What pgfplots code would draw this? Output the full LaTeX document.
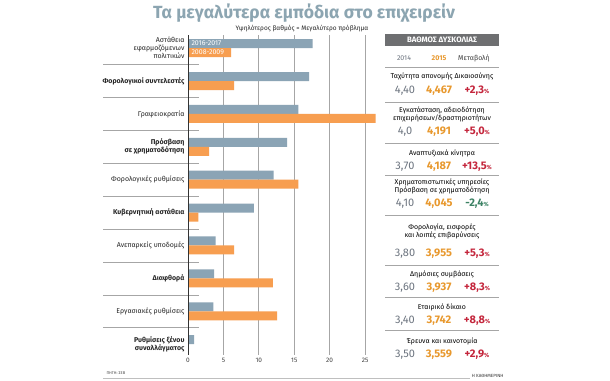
\documentclass[border=0pt]{standalone}
\usepackage{fontspec}
\setmainfont{Fira Sans}
\usepackage{pgfplots}
\pgfplotsset{compat=1.18}
\definecolor{barblue}{RGB}{139,164,181}
\definecolor{barorange}{RGB}{247,158,80}
\definecolor{titlec}{RGB}{140,165,177}
\definecolor{val14}{RGB}{108,116,127}
\definecolor{val15}{RGB}{232,152,45}
\definecolor{valred}{RGB}{196,38,60}
\definecolor{valgreen}{RGB}{60,130,100}
\definecolor{hdr}{RGB}{110,111,113}
\newcommand\valfont{\fontsize{11}{12}\selectfont}
\newcommand\ttl{\fontsize{7}{8}\selectfont}
\newcommand\vals[5]{%
 \node[anchor=base, text=val14, font=\valfont] at (405pt,-#1pt) {#2};
 \node[anchor=base, text=val15, font=\valfont\bfseries] at (439pt,-#1pt) {#3};
 \node[anchor=base, text=#5, font=\valfont\bfseries] at (477pt,-#1pt) {#4{\fontsize{6}{6}\selectfont\%}};
}
\begin{document}
\begin{tikzpicture}
\useasboundingbox (0,0) rectangle (610pt,-380pt);
\fill[white] (0,0) rectangle (610pt,-380pt);
\node[anchor=base, font=\fontsize{17.6}{20}\selectfont\bfseries, text=titlec] at (304pt,-18pt) {Τα μεγαλύτερα εμπόδια στο επιχειρείν};
\node[anchor=base, font=\fontsize{6.5}{7}\selectfont, text=black!85] at (302pt,-30pt) {Υψηλότερος βαθμός = Μεγαλύτερο πρόβλημα};
\begin{axis}[
 at={(188pt,-35pt)}, anchor=north west,
 scale only axis, width=191.2pt, height=320pt,
 xmin=0, xmax=27, ymin=-0.33, ymax=9.4,
 xbar, bar width=9pt,
 xtick={0,5,...,25}, ytick={0,...,9},
 yticklabels={{\textbf{Ρυθμίσεις ξένου}\\\textbf{συναλλάγματος}},
   Εργασιακές ρυθμίσεις, \textbf{Διαφθορά}, Ανεπαρκείς υποδομές,
   \textbf{Κυβερνητική αστάθεια}, Φορολογικές ρυθμίσεις,
   {\textbf{Πρόσβαση}\\\textbf{σε χρηματοδότηση}}, Γραφειοκρατία,
   \textbf{Φορολογικοί συντελεστές}, {Αστάθεια\\εφαρμοζόμενων\\πολιτικών}},
 xmajorgrids, grid style={gray!70, line width=0.7pt},
 axis line style={draw=none},
 major tick length=0pt,
 xticklabel style={font=\fontsize{6.5}{7}\selectfont, text=black!75},
 yticklabel style={font=\ttl, align=right, text=black!85},
 clip=false,
 /pgf/number format/assume math mode=true,
]
\addplot[fill=barblue, draw=none, bar shift=4.5pt] coordinates {(0.85,0) (3.6,1) (3.7,2) (3.9,3) (9.3,4) (12.1,5) (14.0,6) (15.6,7) (17.1,8) (17.6,9)};
\addplot[fill=barorange, draw=none, bar shift=-4.5pt] coordinates {(0,0) (12.6,1) (12.0,2) (6.5,3) (1.45,4) (15.6,5) (3.0,6) (26.5,7) (6.5,8) (6.1,9)};
\draw[gray!70, line width=0.6pt] (axis cs:-12,0.5) -- (axis cs:1.55,0.5);
\draw[gray!70, line width=0.6pt] (axis cs:-12,1.5) -- (axis cs:1.55,1.5);
\draw[gray!70, line width=0.6pt] (axis cs:-12,2.5) -- (axis cs:1.55,2.5);
\draw[gray!70, line width=0.6pt] (axis cs:-12,3.5) -- (axis cs:1.55,3.5);
\draw[gray!70, line width=0.6pt] (axis cs:-12,4.5) -- (axis cs:1.55,4.5);
\draw[gray!70, line width=0.6pt] (axis cs:-12,5.5) -- (axis cs:1.55,5.5);
\draw[gray!70, line width=0.6pt] (axis cs:-12,6.5) -- (axis cs:1.55,6.5);
\draw[gray!70, line width=0.6pt] (axis cs:-12,7.5) -- (axis cs:1.55,7.5);
\draw[gray!70, line width=0.6pt] (axis cs:-12,8.5) -- (axis cs:1.55,8.5);
\draw[black!80, line width=0.9pt] (axis cs:0,-0.33) -- (axis cs:0,9.4);
\node[anchor=west, font=\fontsize{7}{7}\selectfont, text=white] at ([yshift=4.5pt]axis cs:0,9) {2016-2017};
\node[anchor=west, font=\fontsize{7}{7}\selectfont, text=white] at ([yshift=-4.5pt]axis cs:0,9) {2008-2009};
\end{axis}
% right panel
\fill[hdr] (385pt,-34pt) rectangle (499pt,-46pt);
\node[text=white, font=\fontsize{7.8}{8}\selectfont\bfseries] at (442pt,-40pt) {ΒΑΘΜΟΣ ΔΥΣΚΟΛΙΑΣ};
\node[anchor=base, text=val14, font=\ttl] at (404pt,-60pt) {2014};
\node[anchor=base, text=val15, font=\ttl\bfseries] at (439pt,-60pt) {2015};
\node[anchor=base, text=black!75, font=\ttl] at (474pt,-60pt) {Μεταβολή};
\foreach \yy in {67,102,143,175,215,265,297,330}
  \draw[gray!70, line width=0.7pt] (385pt,-\yy pt) -- (499pt,-\yy pt);
\node[font=\ttl, align=center] at (442pt,-76pt) {Ταχύτητα απονομής Δικαιοσύνης};
\vals{93}{4,40}{4,467}{+2,3}{valred}
\node[font=\ttl, align=center] at (442pt,-114pt) {Εγκατάσταση, αδειοδότηση\\επιχειρήσεων/δραστηριοτήτων};
\vals{134}{4,0}{4,191}{+5,0}{valred}
\node[font=\ttl, align=center] at (442pt,-153pt) {Αναπτυξιακά κίνητρα};
\vals{169}{3,70}{4,187}{+13,5}{valred}
\node[font=\ttl, align=center] at (442pt,-186pt) {Χρηματοπιστωτικές υπηρεσίες\\Πρόσβαση σε χρηματοδότηση};
\vals{206}{4,10}{4,045}{-2,4}{valgreen}
\node[font=\ttl, align=center] at (442pt,-231.5pt) {Φορολογία, εισφορές\\και λοιπές επιβαρύνσεις};
\vals{256}{3,80}{3,955}{+5,3}{valred}
\node[font=\ttl, align=center] at (442pt,-274pt) {Δημόσιες συμβάσεις};
\vals{290}{3,60}{3,937}{+8,3}{valred}
\node[font=\ttl, align=center] at (442pt,-307pt) {Εταιρικό δίκαιο};
\vals{323}{3,40}{3,742}{+8,8}{valred}
\node[font=\ttl, align=center] at (442pt,-341pt) {Έρευνα και καινοτομία};
\vals{357}{3,50}{3,559}{+2,9}{valred}
% footer
\draw[gray!50, line width=0.8pt] (103pt,-378pt) -- (470pt,-378pt);
\node[anchor=west, font=\fontsize{4}{4}\selectfont, text=black!70] at (103pt,-373pt) {ΠΗΓΗ: ΣΕΒ};
\node[anchor=east, font=\fontsize{4.5}{5}\selectfont, text=black!80] at (507pt,-376pt) {Η ΚΑΘΗΜΕΡΙΝΗ};
\end{tikzpicture}
\end{document}
